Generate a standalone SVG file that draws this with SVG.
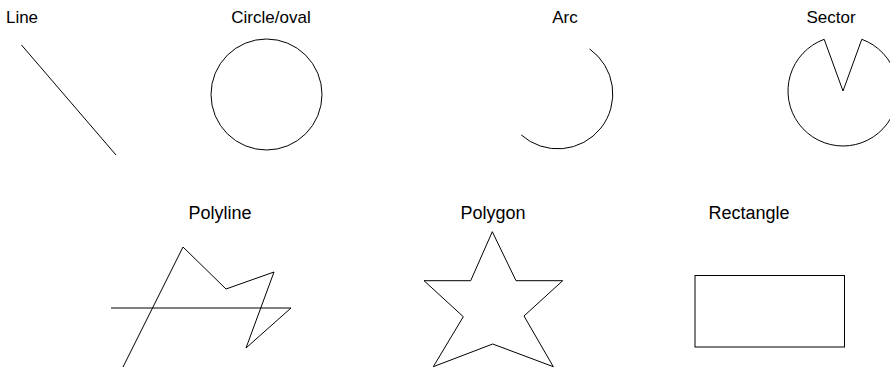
<svg xmlns="http://www.w3.org/2000/svg" width="890" height="370" viewBox="0 0 890 370">
<style>
.s{fill:none;stroke:#000;stroke-width:1}
.t{font-family:"Liberation Sans",Arial,sans-serif;font-size:17px;fill:#000;text-anchor:middle}
.b{font-size:18px}
</style>
<rect width="890" height="370" fill="#fff"/>
<g id="line"><text class="t" x="22" y="23">Line</text><line class="s" x1="21.5" y1="45" x2="116" y2="155"/></g>
<g id="circle"><text class="t" x="271" y="23">Circle/oval</text><circle class="s" cx="266.5" cy="94.5" r="55.5"/></g>
<g id="arc"><text class="t" x="565" y="23">Arc</text><path class="s" d="M589.5 48.9 A55 55 0 1 1 521.2 134.9"/></g>
<g id="sector"><text class="t" x="831" y="23">Sector</text><path class="s" d="M843 91 L861.8 39.3 A55 55 0 1 1 824.2 39.3 Z"/></g>
<g id="polyline"><text class="t b" x="220" y="219">Polyline</text><polyline class="s" points="123,367 183,247 226,289 274,272 246,348 291,308 111,308"/></g>
<g id="polygon"><text class="t b" x="493" y="219">Polygon</text><polygon class="s" points="492.3,231.7 516,280.7 562.7,280.7 524,316 553.3,366.7 492.7,344 433.3,366.7 463.3,316.7 424,280.7 470.7,280.7"/></g>
<g id="rectangle"><text class="t b" x="749" y="219">Rectangle</text><rect class="s" x="695" y="275.5" width="149.5" height="71.5"/></g>
</svg>
